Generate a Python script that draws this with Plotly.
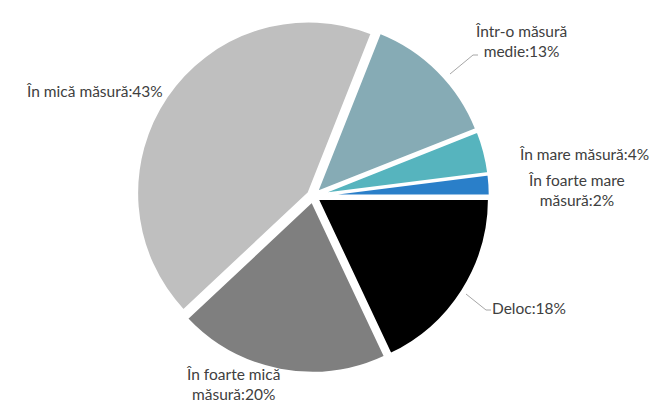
import plotly.graph_objects as go

categories = ["În foarte mare măsură", "În mare măsură", "Într-o măsură medie",
              "În mică măsură", "În foarte mică măsură", "Deloc"]
values = [2, 4, 13, 43, 20, 18]
colors = ["#2a7fc9", "#56b4be", "#86abb5", "#bfbfbf", "#7f7f7f", "#000000"]

# label text (line breaks as in the original)
label_texts = ["În foarte mare<br>măsură:{}%", "În mare măsură:{}%", "Într-o măsură<br>medie:{}%",
               "În mică măsură:{}%", "În foarte mică<br>măsură:{}%", "Deloc:{}%"]

W, H = 658, 402
label_px = [(568, 182), (576, 146), (513, 33), (86, 83), (225, 376), (521, 300)]

fig = go.Figure()
R = 177
cx, cy = 305, 188
# plotly puts the first counterclockwise slice just below the rotation angle,
# so shift the start by the first slice's share to begin at 3 o'clock
rot = 90 - 360 * values[0] / sum(values)
fig.add_trace(go.Pie(
    labels=categories, values=values, sort=False, direction="counterclockwise",
    rotation=rot, marker=dict(colors=colors, line=dict(color="white", width=2.5)),
    pull=[0.03] * 6, textinfo="none", hoverinfo="label+percent",
    domain=dict(x=[(cx - R) / W, (cx + R) / W], y=[(H - cy - R) / H, (H - cy + R) / H]),
    showlegend=False,
))

for t, v, (px, py) in zip(label_texts, values, label_px):
    fig.add_annotation(text=t.format(v), x=px / W, y=1 - py / H, xref="paper", yref="paper",
                       showarrow=False, xanchor="center", yanchor="middle", align="center",
                       font=dict(family="Lato", size=15.5, color="#404040"))

# leader lines
for pts in [[(470, 47), (465, 47), (442, 66)], [(483, 302), (478, 302), (458, 286)]]:
    path = "M " + " L ".join(f"{x / W},{1 - y / H}" for x, y in pts)
    fig.add_shape(type="path", path=path, xref="paper", yref="paper",
                  line=dict(color="#a6a6a6", width=1))

fig.update_layout(width=W, height=H, margin=dict(l=0, r=0, t=0, b=0),
                  paper_bgcolor="white", plot_bgcolor="white")
fig.write_html("out.html")
